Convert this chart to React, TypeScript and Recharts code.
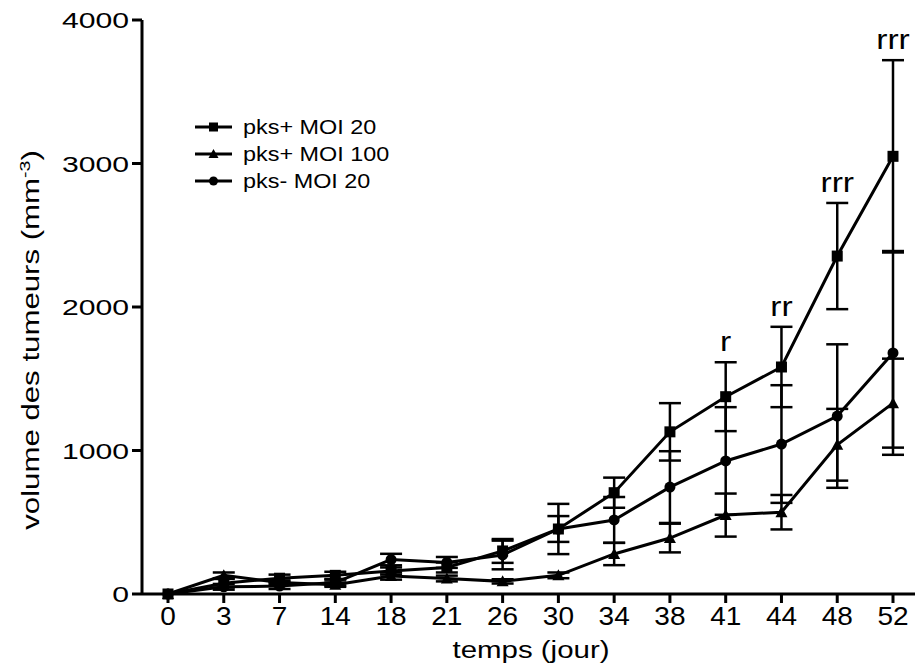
import React from "react";
import {
  LineChart,
  Line,
  XAxis,
  YAxis,
  ErrorBar,
  ReferenceDot,
  Legend,
} from "recharts";

const days = ["0", "3", "7", "14", "18", "21", "26", "30", "34", "38", "41", "44", "48", "52"];

// pks+ MOI 20 (squares)
const plus20 = [0, 75, 110, 130, 160, 185, 300, 453, 706, 1130, 1375, 1582, 2355, 3050];
const plus20Err = [0, 30, 25, 25, 25, 35, 83, 175, 105, 200, 240, 280, 370, 670];

// pks+ MOI 100 (triangles)
const plus100 = [0, 130, 80, 65, 125, 108, 88, 130, 279, 390, 550, 570, 1040, 1330];
const plus100Err = [0, 20, 15, 15, 25, 20, 15, 20, 78, 100, 150, 120, 250, 310];

// pks- MOI 20 (circles)
const minus20 = [0, 50, 55, 80, 240, 220, 272, 453, 516, 745, 927, 1045, 1240, 1680];
const minus20Err = [0, 20, 20, 20, 40, 38, 100, 90, 160, 250, 375, 410, 500, 710];

const yTicks = [0, 1000, 2000, 3000, 4000];

const sigDays = ["41", "44", "48", "52"];
const sigMarks = ["r", "rr", "rrr", "rrr"];

const data = days.map((d, i) => ({
  day: d,
  plus20: plus20[i],
  plus20Err: plus20Err[i],
  plus100: plus100[i],
  plus100Err: plus100Err[i],
  minus20: minus20[i],
  minus20Err: minus20Err[i],
}));

const FONT = "'Liberation Sans', Arial, sans-serif";

const squareDot = (p: any) => (
  <rect key={`sq-${p.index}`} x={p.cx - 5.5} y={p.cy - 5.5} width={11} height={11} fill="#000" />
);
const triangleDot = (p: any) => (
  <polygon
    key={`tr-${p.index}`}
    points={`${p.cx},${p.cy - 6} ${p.cx + 6},${p.cy + 5} ${p.cx - 6},${p.cy + 5}`}
    fill="#000"
  />
);
const circleDot = (p: any) => <circle key={`ci-${p.index}`} cx={p.cx} cy={p.cy} r={5.5} fill="#000" />;

const XTick = ({ x, y, payload }: any) => (
  <g transform={`translate(${x},${y})`}>
    <text transform="scale(1.12,1)" y={20} textAnchor="middle" fontSize={25} fontFamily={FONT} fill="#000">
      {payload.value}
    </text>
  </g>
);

const YTick = ({ x, y, payload }: any) => (
  <g transform={`translate(${x},${y})`}>
    <text transform="scale(1.37,1)" y={8} textAnchor="end" fontSize={22} fontFamily={FONT} fill="#000">
      {payload.value}
    </text>
  </g>
);

const YLabel = () => (
  <text
    transform="translate(39,340) rotate(-90) scale(1.3,1)"
    textAnchor="middle"
    fontSize={24}
    fontFamily={FONT}
    fill="#000"
  >
    volume des tumeurs (mm
    <tspan dy={-9} fontSize={15}>
      -3
    </tspan>
    <tspan dy={9}>)</tspan>
  </text>
);

const XLabel = () => (
  <text
    transform="translate(531,658) scale(1.28,1)"
    textAnchor="middle"
    fontSize={23}
    fontFamily={FONT}
    fill="#000"
  >
    temps (jour)
  </text>
);

const SigLabel = ({ viewBox, text }: any) => {
  const cx = viewBox.x + viewBox.width / 2;
  const cy = viewBox.y;
  return (
    <text
      transform={`translate(${cx},${cy - 10}) scale(1.2,1)`}
      textAnchor="middle"
      fontSize={28}
      fontFamily={FONT}
      fill="#000"
    >
      {text}
    </text>
  );
};

const legendItems = [
  { name: "pks+ MOI 20", shape: "square" },
  { name: "pks+ MOI 100", shape: "triangle" },
  { name: "pks- MOI 20", shape: "circle" },
];

const LegendBox = () => (
  <svg width={230} height={90}>
    {legendItems.map((it, i) => {
      const cy = 17 + i * 27;
      return (
        <g key={it.name}>
          <line x1={5} x2={42} y1={cy} y2={cy} stroke="#000" strokeWidth={3} />
          {it.shape === "square" && <rect x={19} y={cy - 4.5} width={9} height={9} fill="#000" />}
          {it.shape === "triangle" && (
            <polygon points={`23.5,${cy - 5} 28.5,${cy + 4} 18.5,${cy + 4}`} fill="#000" />
          )}
          {it.shape === "circle" && <circle cx={23.5} cy={cy} r={4.5} fill="#000" />}
          <text
            transform={`translate(53,${cy + 7}) scale(1.17,1)`}
            fontSize={20}
            fontFamily={FONT}
            fill="#000"
          >
            {it.name}
          </text>
        </g>
      );
    })}
  </svg>
);

export default function App() {
  return (
    <div style={{ position: "absolute", left: 0, top: 0, background: "#fff" }}>
      <LineChart
        width={917}
        height={671}
        data={data}
        margin={{ top: 20, right: 2, left: 0, bottom: 0 }}
      >
        <XAxis
          dataKey="day"
          type="category"
          height={77}
          padding={{ left: 26, right: 22 }}
          axisLine={{ stroke: "#000", strokeWidth: 3 }}
          tickLine={{ stroke: "#000", strokeWidth: 3 }}
          tickSize={9}
          tickMargin={2}
          tick={<XTick />}
          interval={0}
          label={<XLabel />}
        />
        <YAxis
          width={142}
          domain={[0, 4000]}
          ticks={yTicks}
          axisLine={{ stroke: "#000", strokeWidth: 3 }}
          tickLine={{ stroke: "#000", strokeWidth: 3 }}
          tickSize={10}
          tickMargin={3}
          tick={<YTick />}
          label={<YLabel />}
        />
        <Legend
          layout="horizontal"
          verticalAlign="middle"
          align="center"
          content={() => <LegendBox />}
          wrapperStyle={{ position: "absolute", left: 190, top: 110, width: 230, height: 90 }}
        />
        <Line
          dataKey="minus20"
          stroke="#000"
          strokeWidth={3}
          dot={circleDot}
          activeDot={false}
          isAnimationActive={false}
        >
          <ErrorBar dataKey="minus20Err" width={11} stroke="#000" strokeWidth={2.5} direction="y" />
        </Line>
        <Line
          dataKey="plus100"
          stroke="#000"
          strokeWidth={3}
          dot={triangleDot}
          activeDot={false}
          isAnimationActive={false}
        >
          <ErrorBar dataKey="plus100Err" width={11} stroke="#000" strokeWidth={2.5} direction="y" />
        </Line>
        <Line
          dataKey="plus20"
          stroke="#000"
          strokeWidth={3}
          dot={squareDot}
          activeDot={false}
          isAnimationActive={false}
        >
          <ErrorBar dataKey="plus20Err" width={11} stroke="#000" strokeWidth={2.5} direction="y" />
        </Line>
        {sigDays.map((d, i) => {
          const idx = days.indexOf(d);
          return (
            <ReferenceDot
              key={d}
              x={d}
              y={plus20[idx] + plus20Err[idx]}
              r={1}
              fill="none"
              stroke="none"
              ifOverflow="visible"
              label={<SigLabel text={sigMarks[i]} />}
            />
          );
        })}
      </LineChart>
    </div>
  );
}
